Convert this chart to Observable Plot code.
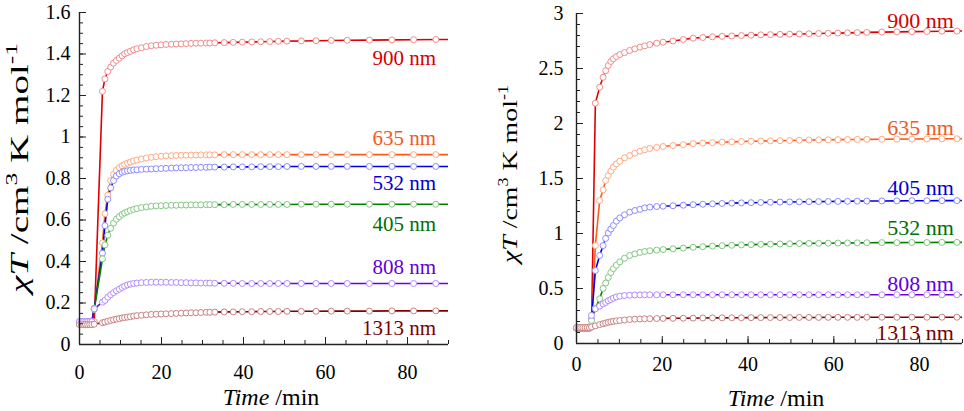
<!DOCTYPE html>
<html><head><meta charset="utf-8">
<script src="https://cdn.jsdelivr.net/npm/d3@7"></script>
<script src="https://cdn.jsdelivr.net/npm/@observablehq/plot@0.6"></script>
<style>
body{margin:0;background:#fff;}
#wrap{display:flex;width:964px;height:411px;overflow:hidden;}
svg, svg g, svg text, svg tspan {font-family: "Liberation Serif", "Times New Roman", Times, serif !important;}
</style></head><body><div id="wrap"></div>
<script>
// ---------- LEFT PANEL DATA ----------
const timeLeft = [0,0.5,1,1.5,2,2.5,3,3.6,
  5.6,6.2,6.9,7.6,8.3,9.0,9.7,10.4,11.0,11.7,12.4,13.2,14.0,15.1,16.3,17.5,18.7,19.9,21.1,22.4,23.6,24.8,26.0,27.2,28.4,29.6,30.9,31.8,
  33.0,35.3,37.5,39.7,42.0,44.2,46.4,48.5,50.6,54.1,57.7,61.4,65.3,70.7,76.2,81.5,86.9,92.3];
const left900 = [0.10,0.10,0.10,0.10,0.10,0.10,0.10,0.11,
  1.22,1.28,1.316,1.337,1.356,1.369,1.380,1.391,1.401,1.407,1.413,1.420,1.425,1.430,1.436,1.440,1.442,1.444,1.446,1.447,1.448,1.449,1.450,1.451,1.452,1.452,1.453,1.453,
  1.454,1.455,1.456,1.457,1.458,1.459,1.460,1.461,1.462,1.463,1.464,1.465,1.466,1.467,1.468,1.469,1.470,1.470];
const left635 = [0.10,0.10,0.10,0.10,0.10,0.10,0.10,0.17,
  0.49,0.63,0.72,0.79,0.82,0.84,0.852,0.861,0.868,0.874,0.879,0.885,0.889,0.894,0.899,0.902,0.905,0.907,0.909,0.910,0.911,0.912,0.912,0.913,0.913,0.914,0.914,0.914,
  0.914,0.915,0.915,0.915,0.915,0.915,0.915,0.915,0.915,0.915,0.915,0.915,0.915,0.915,0.915,0.915,0.915,0.915];
const left532 = [0.11,0.11,0.11,0.11,0.11,0.11,0.11,0.175,
  0.44,0.573,0.70,0.755,0.79,0.812,0.823,0.830,0.834,0.837,0.839,0.841,0.842,0.844,0.845,0.846,0.847,0.848,0.849,0.850,0.851,0.852,0.852,0.853,0.853,0.854,0.854,0.855,
  0.855,0.855,0.856,0.856,0.856,0.857,0.857,0.857,0.858,0.858,0.858,0.858,0.858,0.858,0.858,0.858,0.858,0.858];
const left405 = [0.10,0.10,0.10,0.10,0.10,0.10,0.10,0.17,
  0.413,0.48,0.527,0.56,0.585,0.604,0.616,0.627,0.634,0.640,0.646,0.651,0.655,0.660,0.663,0.666,0.668,0.669,0.670,0.671,0.671,0.672,0.672,0.673,0.673,0.673,0.674,0.674,
  0.674,0.674,0.675,0.675,0.675,0.675,0.675,0.675,0.675,0.676,0.676,0.676,0.676,0.676,0.676,0.676,0.676,0.676];
const left808 = [0.11,0.11,0.11,0.11,0.11,0.11,0.11,0.172,
  0.204,0.213,0.228,0.240,0.250,0.259,0.267,0.275,0.281,0.287,0.291,0.294,0.296,0.298,0.299,0.300,0.300,0.300,0.300,0.299,0.299,0.298,0.298,0.297,0.297,0.296,0.296,0.296,
  0.295,0.295,0.295,0.294,0.294,0.294,0.294,0.294,0.294,0.294,0.294,0.294,0.294,0.294,0.294,0.294,0.294,0.294];
const left1313 = [0.096,0.096,0.096,0.096,0.096,0.096,0.096,0.098,
  0.105,0.108,0.112,0.116,0.119,0.122,0.125,0.128,0.130,0.132,0.134,0.137,0.139,0.141,0.143,0.145,0.146,0.147,0.148,0.149,0.150,0.151,0.152,0.153,0.153,0.154,0.155,0.155,
  0.156,0.157,0.157,0.158,0.158,0.159,0.159,0.159,0.160,0.160,0.160,0.161,0.161,0.161,0.162,0.162,0.162,0.162];
const leftLabels = ["900 nm","635 nm","532 nm","405 nm","808 nm","1313 nm"];
const leftLabelY = [1.378,0.993,0.776,0.578,0.371,0.077];
const leftLabelX = 87;
const leftYTicks = [0,0.2,0.4,0.6,0.8,1,1.2,1.4,1.6];

// ---------- RIGHT PANEL DATA ----------
const timeRight = [0,0.5,1,1.5,2,2.5,3,3.5,
  4.4,5.4,6.2,6.8,7.4,8.0,8.6,9.3,10.1,11.2,12.4,13.6,14.8,15.9,17.1,18.7,20.2,
  22.5,24.9,27.2,29.45,31.7,33.95,36.2,38.45,40.7,42.95,45.2,47.45,49.7,51.95,54.2,56.45,58.7,60.95,63.2,65.45,67.7,
  71.2,74.7,78.2,81.7,85.2,88.7,92.2];
const right900 = [0.14,0.14,0.14,0.14,0.14,0.14,0.14,0.15,
  2.185,2.33,2.42,2.48,2.527,2.564,2.588,2.609,2.627,2.645,2.664,2.679,2.694,2.706,2.718,2.730,2.739,
  2.750,2.764,2.776,2.782,2.788,2.792,2.796,2.800,2.803,2.806,2.808,2.810,2.812,2.814,2.816,2.818,2.820,2.822,2.824,2.826,2.828,
  2.831,2.833,2.835,2.837,2.839,2.840,2.841];
const right635 = [0.14,0.14,0.14,0.14,0.14,0.14,0.14,0.17,
  0.89,1.30,1.397,1.482,1.527,1.567,1.603,1.633,1.657,1.688,1.709,1.730,1.748,1.761,1.773,1.782,1.791,
  1.800,1.808,1.818,1.822,1.826,1.830,1.833,1.836,1.838,1.840,1.842,1.844,1.846,1.848,1.850,1.851,1.852,1.853,1.854,1.855,1.856,
  1.857,1.858,1.859,1.860,1.861,1.861,1.862];
const right405 = [0.14,0.14,0.14,0.14,0.14,0.14,0.14,0.22,
  0.664,0.80,0.89,0.955,1.005,1.04,1.073,1.112,1.142,1.170,1.194,1.209,1.220,1.233,1.240,1.245,1.248,
  1.252,1.257,1.262,1.266,1.270,1.273,1.276,1.278,1.280,1.282,1.284,1.286,1.287,1.288,1.289,1.290,1.291,1.292,1.293,1.294,1.295,
  1.296,1.297,1.298,1.298,1.299,1.299,1.300];
const right532 = [0.14,0.14,0.14,0.14,0.14,0.14,0.14,0.21,
  0.32,0.406,0.50,0.55,0.60,0.645,0.68,0.712,0.742,0.775,0.80,0.815,0.828,0.837,0.843,0.849,0.854,
  0.861,0.868,0.875,0.880,0.885,0.889,0.893,0.896,0.899,0.901,0.903,0.905,0.907,0.909,0.910,0.911,0.912,0.913,0.914,0.915,0.916,
  0.917,0.917,0.918,0.918,0.919,0.919,0.920];
const right808 = [0.14,0.14,0.14,0.14,0.14,0.14,0.14,0.255,
  0.315,0.34,0.36,0.373,0.389,0.40,0.412,0.423,0.430,0.436,0.439,0.441,0.442,0.443,0.443,0.443,0.443,
  0.443,0.443,0.443,0.443,0.443,0.443,0.443,0.443,0.443,0.443,0.443,0.443,0.443,0.443,0.443,0.443,0.443,0.443,0.443,0.443,0.443,
  0.443,0.443,0.443,0.443,0.443,0.443,0.443];
const right1313 = [0.145,0.145,0.145,0.145,0.145,0.145,0.145,0.15,
  0.16,0.172,0.18,0.186,0.192,0.197,0.201,0.205,0.209,0.214,0.218,0.221,0.223,0.225,0.226,0.227,0.228,
  0.229,0.230,0.231,0.232,0.233,0.233,0.234,0.234,0.235,0.235,0.236,0.236,0.236,0.237,0.237,0.237,0.238,0.238,0.238,0.238,0.239,
  0.239,0.239,0.239,0.239,0.239,0.239,0.239];
const rightLabels = ["900 nm","635 nm","405 nm","532 nm","808 nm","1313 nm"];
const rightLabelY = [2.936,1.964,1.414,1.05,0.545,0.10];
const rightLabelX = 88;
const rightYTicks = [0,0.5,1,1.5,2,2.5,3];

const xTicks = [0,20,40,60,80];

// ---------- STYLES ----------
const lineColors = ["#e00000","#ff5a1e","#0000e6","#008000","#7000e0","#800000"];
const markerColors = ["#f08c8c","#ffaa82","#8c8cff","#82c882","#b48cff","#c88282"];
const labelColors = ["#d60000","#f05a1e","#0000d2","#007000","#6400dc","#780000"];
const FONT = "Liberation Serif, Times New Roman, serif";

function makePanel(cfg) {
  const marks = [];
  cfg.series.forEach((vals, i) => {
    const rows = cfg.times.map((t, j) => ({t, v: vals[j]}));
    marks.push(Plot.line(rows, {x: "t", y: "v", stroke: lineColors[i], strokeWidth: 1.6, clip: true}));
  });
  cfg.series.forEach((vals, i) => {
    const rows = cfg.times.map((t, j) => ({t, v: vals[j]})).filter(d => d.t <= 90);
    marks.push(Plot.dot(rows, {x: "t", y: "v", r: 3, stroke: markerColors[i], fill: "white", strokeWidth: 1}));
  });
  const labRows = cfg.labels.map((s, i) => ({s, y: cfg.labelY[i], c: labelColors[i]}));
  marks.push(Plot.text(labRows, {x: () => cfg.labelX, y: "y", text: "s", fill: "c", textAnchor: "end", lineAnchor: "middle", fontSize: cfg.labelFont, fontFamily: FONT}));

  const yMax = cfg.yTicks[cfg.yTicks.length - 1];
  const xMinor = d3.range(0, 91, 5);
  const yMinor = d3.range(0, Math.round(yMax / cfg.yMinorStep) + 1).map(k => +(k * cfg.yMinorStep).toFixed(3));
  marks.push(
    Plot.axisX({ticks: xMinor, tickSize: 4, dy: -4, fill: "none", stroke: "#222", label: null}),
    Plot.axisX({ticks: xTicks, tickSize: 7, dy: -7, fill: "none", stroke: "#222", label: null}),
    Plot.axisX({ticks: xTicks, tickSize: 0, tickPadding: cfg.xPad, tickFormat: d => String(d), label: null, fill: "#000", fontFamily: FONT, fontSize: 20}),
    Plot.axisY({ticks: yMinor, tickSize: 4, dx: 4, fill: "none", stroke: "#222", label: null}),
    Plot.axisY({ticks: cfg.yTicks, tickSize: 7, dx: 7, fill: "none", stroke: "#222", label: null}),
    Plot.axisY({ticks: cfg.yTicks, tickSize: 0, tickPadding: cfg.yPad, tickFormat: d => String(d), label: null, fill: "#000", fontFamily: FONT, fontSize: 20}),
    Plot.ruleX([0], {stroke: "#222", strokeWidth: 1.4}),
    Plot.ruleY([0], {stroke: "#222", strokeWidth: 1.4})
  );

  const svgEl = Plot.plot({
    width: 482, height: 411,
    marginLeft: cfg.ml, marginRight: cfg.mr, marginTop: cfg.mt, marginBottom: cfg.mb,
    x: {domain: [0, 90], label: null},
    y: {domain: [0, yMax], label: null},
    style: {fontFamily: FONT, fontSize: "20px", background: "white", color: "#000", overflow: "visible"},
    marks
  });
  const svg = d3.select(svgEl);
  // x-axis title
  const xt = svg.append("text").attr("x", cfg.xTitleX).attr("y", cfg.xTitleY)
    .attr("text-anchor", "middle").attr("font-size", 24).attr("fill", "#000").attr("font-family", FONT);
  xt.append("tspan").attr("font-style", "italic").text("Time");
  xt.append("tspan").text(" /min");
  // y-axis title
  const fs = cfg.yTitleFont;
  const yt = svg.append("text").attr("transform", `translate(${cfg.yTitleX},${cfg.yTitleY}) rotate(-90)`)
    .attr("text-anchor", "middle").attr("font-size", fs).attr("fill", "#000").attr("font-family", FONT)
    .attr("textLength", cfg.yTitleLen).attr("lengthAdjust", "spacingAndGlyphs");
  yt.append("tspan").attr("font-style", "italic").text("χT");
  yt.append("tspan").text(" /cm");
  yt.append("tspan").attr("dy", -0.42 * fs).attr("font-size", 0.65 * fs).text("3");
  yt.append("tspan").attr("dy", 0.42 * fs).text(" K mol");
  yt.append("tspan").attr("dy", -0.42 * fs).attr("font-size", 0.65 * fs).text("-1");
  return svgEl;
}

const wrap = document.getElementById("wrap");
wrap.appendChild(makePanel({
  times: timeLeft,
  series: [left900, left635, left532, left405, left808, left1313],
  labels: leftLabels, labelY: leftLabelY, labelX: leftLabelX, labelFont: 21,
  yTicks: leftYTicks, yMinorStep: 0.05,
  ml: 79, mr: 34, mt: 12, mb: 67,
  xPad: 20, yPad: 9,
  xTitleX: 271, xTitleY: 405,
  yTitleX: 28, yTitleY: 168, yTitleFont: 26, yTitleLen: 250
}));
wrap.appendChild(makePanel({
  times: timeRight,
  series: [right900, right635, right405, right532, right808, right1313],
  labels: rightLabels, labelY: rightLabelY, labelX: rightLabelX, labelFont: 22,
  yTicks: rightYTicks, yMinorStep: 0.1,
  ml: 94, mr: 2, mt: 13, mb: 68,
  xPad: 13, yPad: 13,
  xTitleX: 294, xTitleY: 406,
  yTitleX: 35, yTitleY: 174, yTitleFont: 21, yTitleLen: 178
}));
</script>
</body></html>
